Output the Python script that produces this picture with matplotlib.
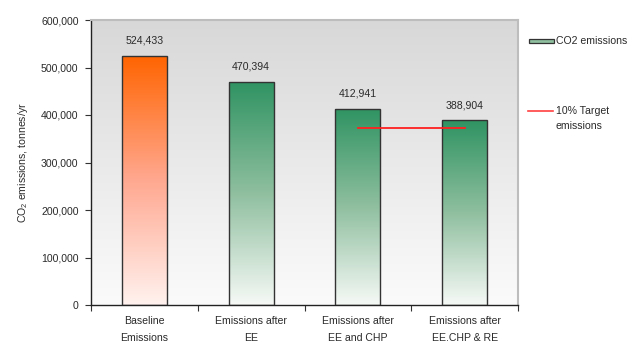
import numpy as np
import matplotlib
matplotlib.use("Agg")
import matplotlib.pyplot as plt
from matplotlib.colors import LinearSegmentedColormap
from matplotlib.lines import Line2D
from matplotlib.patches import Rectangle

plt.rcParams['font.family'] = ['Liberation Sans', 'DejaVu Sans']
plt.rcParams['mathtext.fontset'] = 'custom'
plt.rcParams['mathtext.rm'] = 'Liberation Sans'
plt.rcParams['mathtext.it'] = 'Liberation Sans'

categories = ["Baseline\nEmissions", "Emissions after\nEE",
              "Emissions after\nEE and CHP", "Emissions after\nEE.CHP & RE"]
emissions = [524433, 470394, 412941, 388904]
target = 372000
target_span = [2, 3]  # category indices the target line runs between

W, H = 637, 347
fig = plt.figure(figsize=(W / 100, H / 100), dpi=100)
ax = fig.add_axes([91 / W, 1 - 305 / H, 427 / W, 285 / H])

txt = "#2a2a2a"
fs = 7.6

# grey background gradient (dark top, light bottom)
bg = LinearSegmentedColormap.from_list("bg", ["#fbfbfb", "#d8d8d8"])
grad = np.linspace(0, 1, 256).reshape(-1, 1)
ax.imshow(grad, cmap=bg, aspect="auto", extent=[0, 1, 0, 1],
          transform=ax.transAxes, origin="lower", zorder=0)

orange = LinearSegmentedColormap.from_list("or", ["#fff2ef", "#ffa890", "#ff6400"])
green = LinearSegmentedColormap.from_list("gr", ["#f6f9f6", "#8fbf9f", "#2f9362"])
cmaps = [orange, green, green, green]

x = np.arange(len(categories)) + 0.5
width = 0.42
bars = ax.bar(x, emissions, width=width, facecolor="none",
              edgecolor="#333333", linewidth=1.0, zorder=3)
for b, cm in zip(bars, cmaps):
    x0 = b.get_x()
    im = ax.imshow(grad, cmap=cm, aspect="auto", origin="lower",
                   extent=[x0, x0 + b.get_width(), 0, b.get_height()], zorder=2)
    im.set_clip_path(b)

for xi, v in zip(x, emissions):
    ax.text(xi, v + 21000, f"{v:,}", ha="center", va="bottom",
            fontsize=fs, color=txt, zorder=5)

ax.plot([x[target_span[0]], x[target_span[1]]], [target, target],
        color="#ff2020", linewidth=1.3, zorder=4)

ax.set_xlim(0, 4)
ax.set_ylim(0, 600000)
yt = np.arange(0, 600001, 100000)
ax.set_yticks(yt)
ax.set_yticklabels([f"{int(v):,}" for v in yt], fontsize=fs, color=txt)
ax.set_xticks(np.arange(0, 5))
ax.set_xticklabels([])
ax.set_xticks(x, minor=True)
ax.set_xticklabels(categories, minor=True, fontsize=fs, linespacing=1.9, color=txt)
ax.tick_params(axis="x", which="minor", length=0, pad=8)
ax.tick_params(axis="x", which="major", length=4, direction="out", color="#333333")
ax.tick_params(axis="y", length=4, direction="out", color="#333333", pad=5)

for s in ["left", "bottom"]:
    ax.spines[s].set_color("#222222")
    ax.spines[s].set_linewidth(1.0)
for s in ["top", "right"]:
    ax.spines[s].set_color("#bdbdbd")
    ax.spines[s].set_linewidth(1.5)

ax.set_ylabel(r"CO$_{\mathrm{2}}$ emissions, tonnes/yr", fontsize=fs,
              labelpad=8, color=txt)

# legend drawn in figure pixel coordinates
def fx(px):
    return px / W

def fy(py):
    return 1 - py / H

fig.add_artist(Rectangle((fx(529), fy(43)), fx(554) - fx(529), fy(39) - fy(43),
                         transform=fig.transFigure, facecolor="#8fbf9f",
                         edgecolor="#333333", linewidth=0.9))
fig.text(fx(556), fy(41), "CO2 emissions", fontsize=fs, color=txt,
         ha="left", va="center")
fig.add_artist(Line2D([fx(528), fx(553)], [fy(111), fy(111)],
                      transform=fig.transFigure, color="#ff4040", linewidth=1.2))
fig.text(fx(556), fy(106), "10% Target\nemissions", fontsize=fs, color=txt,
         ha="left", va="top", linespacing=1.65)

fig.savefig("out.png", dpi=100)
